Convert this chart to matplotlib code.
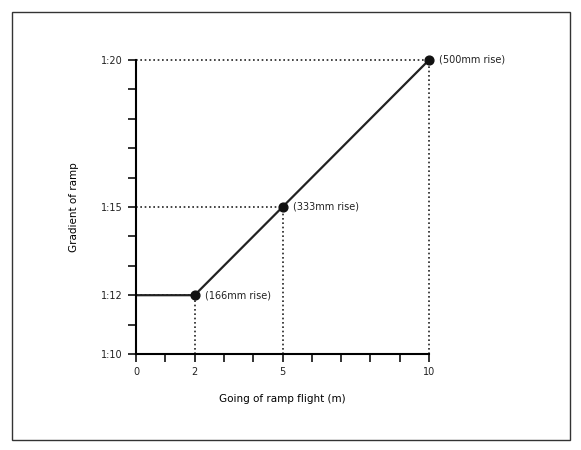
import matplotlib.pyplot as plt
from matplotlib.patches import Rectangle

going = [0, 2, 5, 10]
gradient = [12, 12, 15, 20]
point_x = [2, 5, 10]
point_y = [12, 15, 20]
point_labels = ['(166mm rise)', '(333mm rise)', '(500mm rise)']
ytick_pos = [10, 12, 15, 20]
ytick_labels = ['1:10', '1:12', '1:15', '1:20']
xtick_pos = [0, 2, 5, 10]

fig = plt.figure(figsize=(5.81, 4.5), dpi=100)
fig.patches.append(Rectangle((12 / 581, 10 / 450), 558 / 581, 428 / 450,
                             transform=fig.transFigure, fill=False,
                             edgecolor='#333333', linewidth=1))
ax = fig.add_axes([136 / 581, 96 / 450, 293 / 581, 294 / 450])

ax.plot(going, gradient, color='#222222', linewidth=1.6)
ax.scatter(point_x, point_y, s=40, color='#111111', zorder=5, clip_on=False)
dots = (0, (1, 1.6))
for x, y, lab in zip(point_x, point_y, point_labels):
    ax.plot([x, x], [10, y], linestyle=dots, color='#222222', linewidth=1.2, clip_on=False)
    ax.plot([0, x], [y, y], linestyle=dots, color='#222222', linewidth=1.2, clip_on=False)
    ax.text(x + 0.35, y, lab, fontsize=7, va='center', color='#222222')

ax.set_xlim(0, 10)
ax.set_ylim(10, 20)
ax.spines[['top', 'right']].set_visible(False)
ax.spines[['left', 'bottom']].set_linewidth(1.5)
ax.set_xticks(range(0, 11), minor=True)
ax.set_yticks(range(10, 21), minor=True)
ax.set_xticks(xtick_pos)
ax.set_yticks(ytick_pos, ytick_labels)
ax.tick_params(which='both', length=6, width=1.3, labelsize=7, colors='#222222')
ax.set_xlabel('Going of ramp flight (m)', fontsize=7.5, labelpad=12)
ax.set_ylabel('Gradient of ramp', fontsize=7.5, labelpad=16)

fig.savefig('out.png', dpi=100)
